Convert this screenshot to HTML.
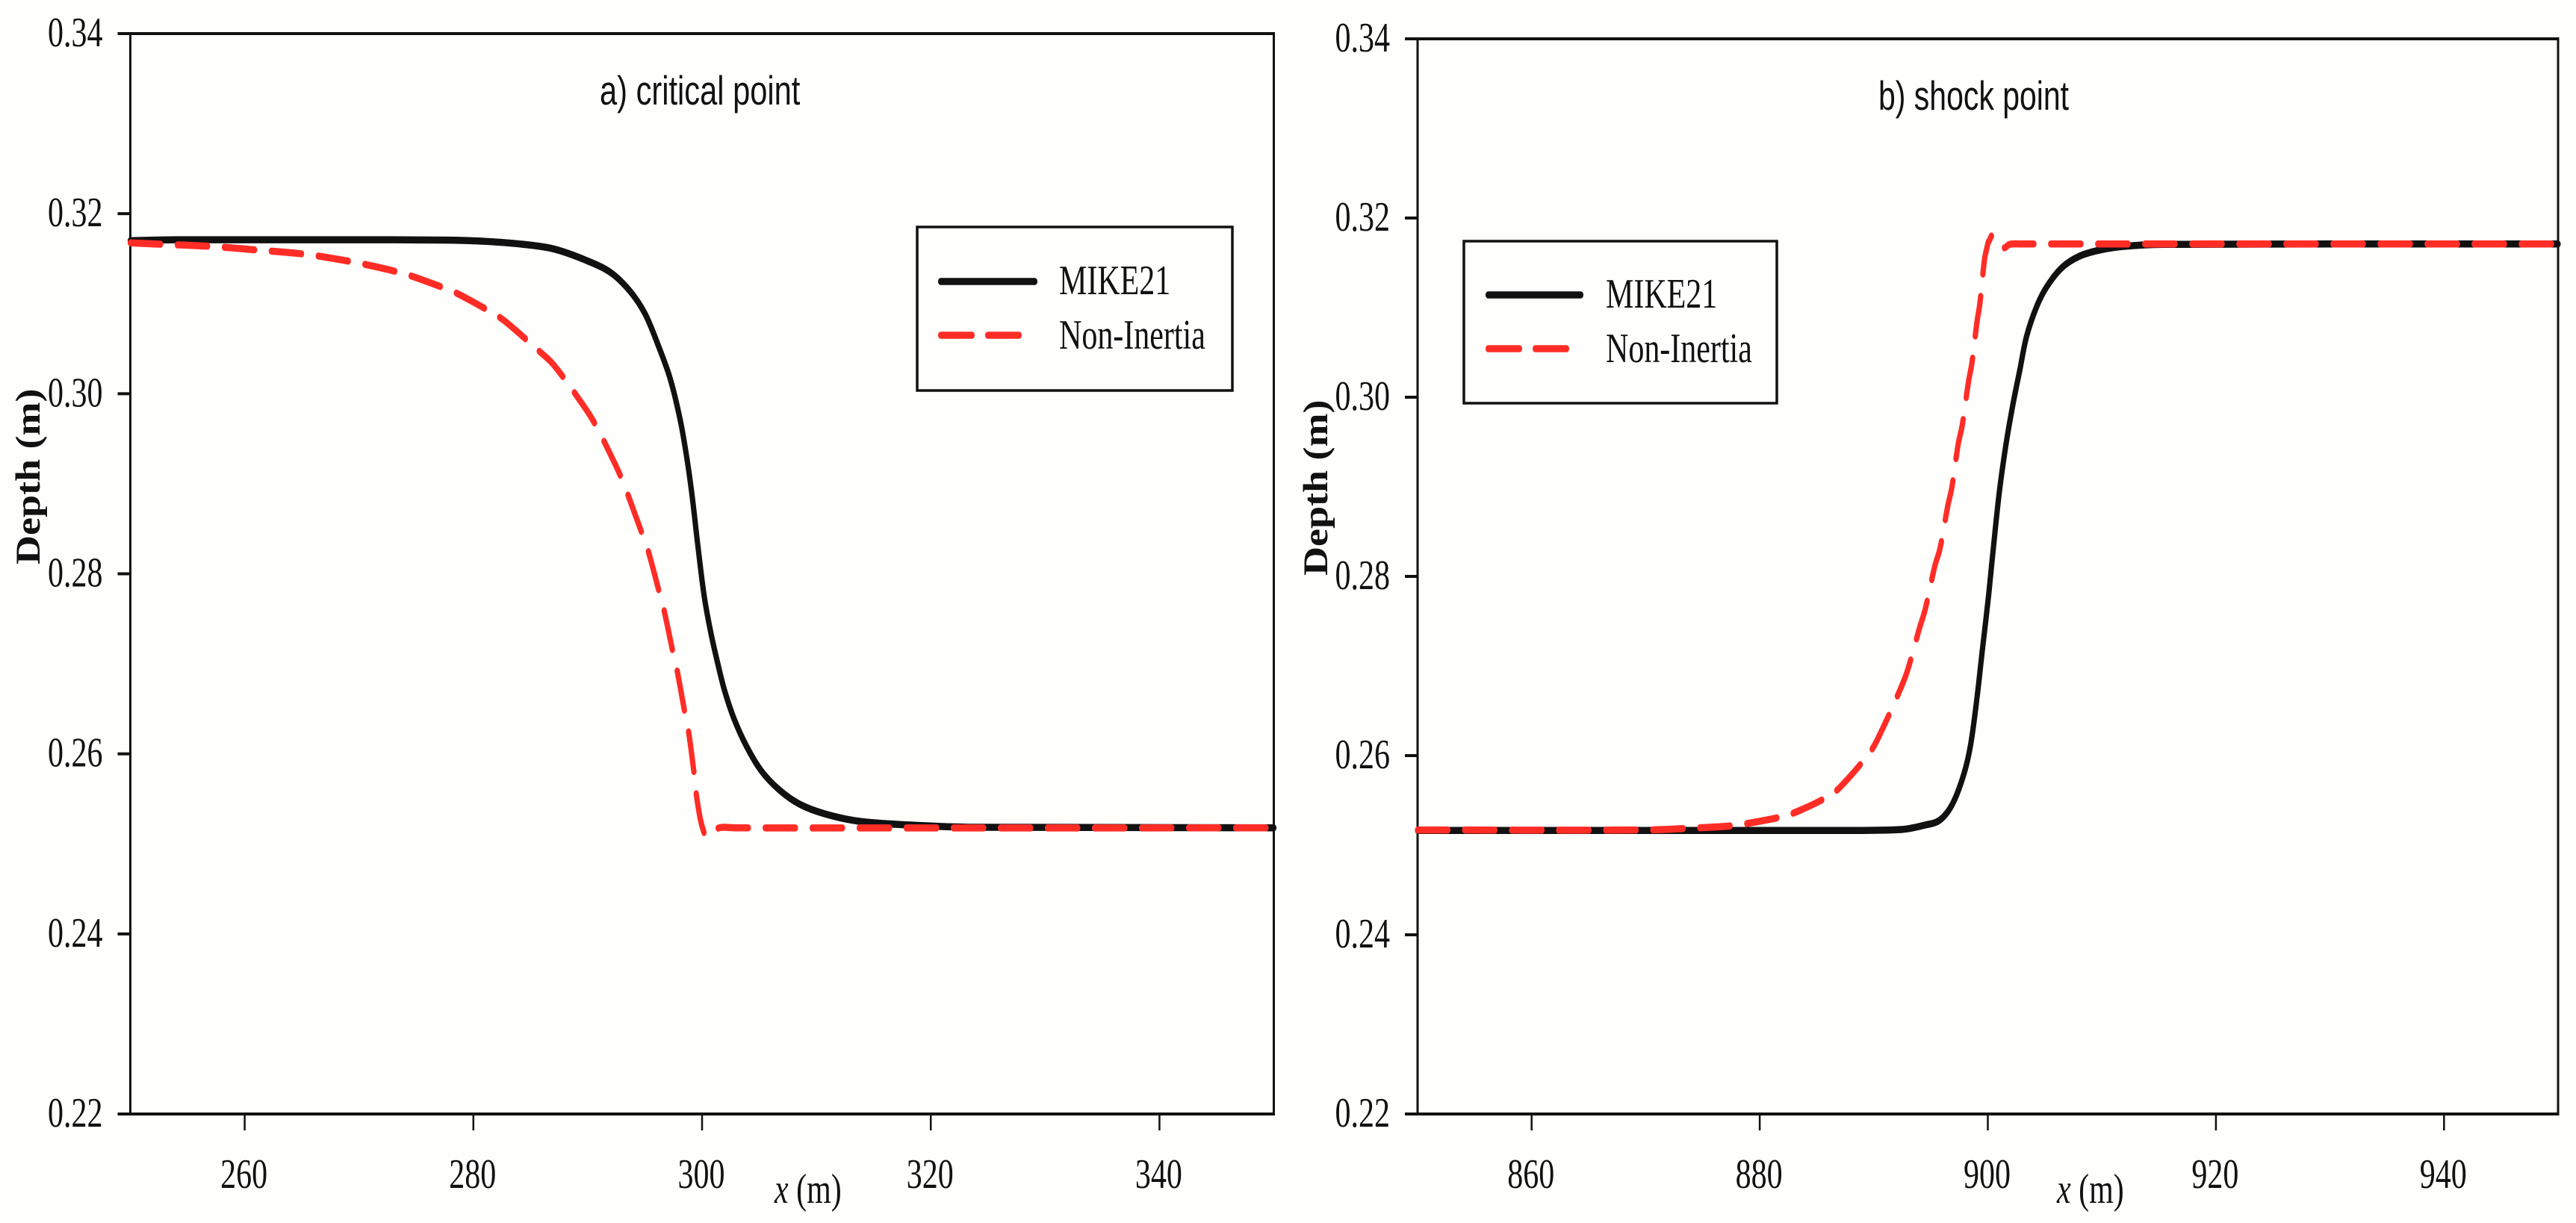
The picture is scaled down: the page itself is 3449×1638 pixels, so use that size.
<!DOCTYPE html>
<html lang="en">
<head>
<meta charset="utf-8">
<title>Depth profiles: critical point and shock point</title>
<style>
  html, body { margin: 0; padding: 0; background: #fefefd; }
  body { width: 3449px; height: 1638px; overflow: hidden; }
  svg { display: block; }
  text { font-family: "Liberation Serif", serif; fill: #111; }
</style>
</head>
<body>
<svg id="chart" xmlns="http://www.w3.org/2000/svg" width="3449" height="1638" viewBox="0 0 3449 1638"></svg>
<script>
const yTickValues = [0.22, 0.24, 0.26, 0.28, 0.30, 0.32, 0.34];
const xTickValuesA = [260, 280, 300, 320, 340];
const xTickValuesB = [860, 880, 900, 920, 940];
const seriesNames = ['MIKE21', 'Non-Inertia'];

const mikeAX = [250,254,258,262,271.3,277.8,281.1,284.3,287,289.8,292,293.7,295,296.1,297.2,298.1,298.7,299.15,299.6,300.2,300.8,301.5,302,302.8,303.9,305.2,306.75,308.5,310.7,313.7,318.1,323.5,350];
const mikeAY = [0.3170,0.3171,0.3171,0.3171,0.3171,0.31706,0.31692,0.3166,0.31609,0.31485,0.31347,0.31139,0.30891,0.30559,0.30172,0.29702,0.2926,0.28845,0.28347,0.2774,0.27325,0.26935,0.26689,0.26388,0.26081,0.25808,0.256,0.25443,0.25335,0.25252,0.2521,0.25185,0.25178];
const nonAX = [250,252.8,256.9,261.1,265.3,269.2,271.3,273.3,274.5,277.5,278.7,281.5,282.8,285.6,287,289.6,290.65,292.5,293.2,294.6,295.2,296.2,296.64,297.45,297.8,298.5,298.82,299.32,299.49,299.84,300.13,300.34,301,301.7,302.9,350];
const nonAY = [0.31676,0.3166,0.31638,0.31596,0.31549,0.3147,0.31415,0.31355,0.31311,0.31172,0.31106,0.3091,0.30802,0.3049,0.30324,0.29873,0.29661,0.29191,0.28983,0.285,0.28293,0.27823,0.27615,0.27131,0.26938,0.26454,0.26247,0.25764,0.25556,0.2528,0.25142,0.25092,0.25154,0.25183,0.25178,0.25178];
const mikeBX = [850,870,885,892.4,894.5,895.8,896.9,897.9,898.5,899.06,899.5,900.05,900.4,901,901.6,902.2,902.8,903.4,904.3,905.2,906.5,908,909.8,911.9,915.4,950];
const mikeBY = [0.25165,0.25165,0.25165,0.25175,0.25225,0.25281,0.2546,0.25794,0.26128,0.26656,0.27156,0.27767,0.28211,0.28933,0.2948,0.2992,0.3030,0.3068,0.31017,0.31239,0.31447,0.31572,0.31642,0.31683,0.31706,0.3171];
const nonBX = [850,870,874,877.45,878.8,881.6,882.8,885.7,887,889.7,890.65,892.3,892.95,894,894.5,895.35,895.8,896.5,896.84,897.4,897.75,898.3,898.6,899.06,899.3,899.7,899.9,900.05,900.15,900.41,900.8,901.4,901.9,903,950];
const nonBY = [0.2517,0.2517,0.2519,0.25215,0.2524,0.25308,0.2535,0.25522,0.25642,0.26044,0.26267,0.26733,0.26947,0.27419,0.27628,0.28114,0.28308,0.28794,0.28989,0.29475,0.29683,0.30169,0.30378,0.3085,0.31044,0.31531,0.31656,0.31733,0.31753,0.31808,0.31767,0.31669,0.31706,0.3171,0.3171];

const NS = 'http://www.w3.org/2000/svg';
const svg = document.getElementById('chart');
const SQUEEZE = 0.75;
const INK = '#111111';
const RED = '#ff2d26';

function make(tag, attrs, parent) {
  const el = document.createElementNS(NS, tag);
  for (const k in attrs) el.setAttribute(k, attrs[k]);
  parent.appendChild(el);
  return el;
}

function addText(parent, str, x, y, anchor, size) {
  const el = make('text', {
    transform: 'translate(' + x + ',' + y + ') scale(' + SQUEEZE + ',1)',
    'text-anchor': anchor,
    'font-size': size
  }, parent);
  el.textContent = str;
  return el;
}

function smoothPath(pts) {
  let d = 'M' + pts[0][0].toFixed(2) + ' ' + pts[0][1].toFixed(2);
  const tangent = i => {
    const a = pts[Math.max(i - 1, 0)];
    const b = pts[Math.min(i + 1, pts.length - 1)];
    const dx = b[0] - a[0];
    const dy = b[1] - a[1];
    const len = Math.hypot(dx, dy) || 1;
    return [dx / len, dy / len];
  };
  for (let i = 0; i < pts.length - 1; i++) {
    const p = pts[i];
    const q = pts[i + 1];
    const seg = Math.hypot(q[0] - p[0], q[1] - p[1]) / 3;
    const t0 = tangent(i);
    const t1 = tangent(i + 1);
    d += ' C' + (p[0] + t0[0] * seg).toFixed(2) + ' ' + (p[1] + t0[1] * seg).toFixed(2) +
         ' ' + (q[0] - t1[0] * seg).toFixed(2) + ' ' + (q[1] - t1[1] * seg).toFixed(2) +
         ' ' + q[0].toFixed(2) + ' ' + q[1].toFixed(2);
  }
  return d;
}

function drawPanel(p) {
  const panel = make('g', {}, svg);
  
  

  const sx = v => p.left + (v - p.xMin) / (p.xMax - p.xMin) * (p.right - p.left);
  const sy = v => p.bottom - (v - 0.22) / (0.34 - 0.22) * (p.bottom - p.top);

  const frame = make('g', {}, panel);
  
  
  make('rect', { x: p.left - 1.5, y: p.top, width: 3, height: p.bottom - p.top, fill: INK }, frame);
  make('rect', { x: p.right - 1.5, y: p.top, width: 3, height: p.bottom - p.top, fill: INK }, frame);
  make('rect', { x: p.left, y: p.top - 2, width: p.right - p.left + 1.5, height: 4, fill: INK }, frame);
  make('rect', { x: p.left, y: p.bottom - 2, width: p.right - p.left + 1.5, height: 4, fill: INK }, frame);

  const yAxis = make('g', {}, panel);
  
  
  yTickValues.forEach(v => {
    const y = sy(v);
    const tick = make('rect', { x: p.left - 17, y: y - 2, width: 17, height: 4, fill: INK }, yAxis);
    
    
    const label = addText(yAxis, v.toFixed(2), p.left - 37, y + 17, 'end', 56);
    
    
  });

  const xAxis = make('g', {}, panel);
  
  
  p.xTicks.forEach(v => {
    const x = sx(v);
    const tick = make('rect', { x: x - 1.25, y: p.bottom, width: 2.5, height: 22, fill: INK }, xAxis);
    
    
    const label = addText(xAxis, String(v), x - 1, 1591, 'middle', 56);
    
    
  });

  const xTitle = addText(panel, '', p.xTitleX, 1611, 'start', 56);
  
  
  const xVar = make('tspan', { 'font-style': 'italic' }, xTitle);
  xVar.textContent = 'x';
  const xUnit = make('tspan', {}, xTitle);
  xUnit.textContent = ' (m)';

  const yTitle = make('text', {
    transform: 'translate(' + p.yTitleX + ',' + p.yTitleY + ') rotate(-90) scale(1,0.86)',
    'font-size': 54,
    'font-weight': 'bold'
  }, panel);
  yTitle.textContent = 'Depth (m)';
  
  

  const title = make('text', {
    transform: 'translate(' + p.titleX + ',' + p.titleY + ') scale(' + p.titleScale + ',1)',
    'font-size': 55,
    style: 'font-family:"Liberation Sans",sans-serif'
  }, panel);
  title.textContent = p.title;
  
  

  const squeezed = make('g', { transform: 'scale(' + SQUEEZE + ',1)' }, panel);
  
  

  const linePath = (xs, ys) => smoothPath(xs.map((v, i) => [sx(v) / SQUEEZE, sy(ys[i])]));

  const mike = make('path', {
    d: linePath(p.mikeX, p.mikeY), fill: 'none', stroke: INK, 'stroke-width': 9.5,
    'stroke-linejoin': 'round', 'stroke-linecap': 'round'
  }, squeezed);
  
  

  const non = make('path', {
    d: linePath(p.nonX, p.nonY), fill: 'none', stroke: RED, 'stroke-width': 9.5,
    'stroke-linejoin': 'round', 'stroke-linecap': 'round', 'stroke-dasharray': '54 30'
  }, squeezed);
  
  

  const L = p.legend;
  const legend = make('g', {}, panel);
  
  
  make('rect', { x: L.x0, y: L.y0, width: L.x1 - L.x0, height: L.y1 - L.y0, fill: 'none', stroke: INK, 'stroke-width': 3.5 }, legend);
  const legendLines = make('g', { transform: 'scale(' + SQUEEZE + ',1)' }, legend);
  const keyA = make('line', {
    x1: (L.keyX0 + 3.5) / SQUEEZE, x2: (L.keyX1 - 3.5) / SQUEEZE, y1: L.row1, y2: L.row1,
    stroke: INK, 'stroke-width': 9.5, 'stroke-linecap': 'round'
  }, legendLines);
  
  
  const keyB = make('line', {
    x1: (L.keyX0 + 3.5) / SQUEEZE, x2: (L.keyX0 + 109) / SQUEEZE, y1: L.row2, y2: L.row2,
    stroke: RED, 'stroke-width': 9.5, 'stroke-linecap': 'round', 'stroke-dasharray': '56 28'
  }, legendLines);
  
  
  const labelA = addText(legend, seriesNames[0], L.textX, L.row1 + 17, 'start', 56);
  
  
  const labelB = addText(legend, seriesNames[1], L.textX, L.row2 + 18, 'start', 56);
  
  
}

drawPanel({
  name: 'panel-a-critical-point', title: 'a) critical point',
  left: 174.5, right: 1705.5, top: 45, bottom: 1492, xMin: 250, xMax: 350,
  xTicks: xTickValuesA, mikeX: mikeAX, mikeY: mikeAY, nonX: nonAX, nonY: nonAY,
  titleX: 803, titleY: 140, titleScale: 0.757, xTitleX: 1037, yTitleX: 53, yTitleY: 756,
  legend: { x0: 1228, x1: 1650, y0: 304, y1: 523, keyX0: 1256, keyX1: 1389, row1: 377, row2: 449, textX: 1418 }
});
drawPanel({
  name: 'panel-b-shock-point', title: 'b) shock point',
  left: 1898, right: 3425, top: 52, bottom: 1492, xMin: 850, xMax: 950,
  xTicks: xTickValuesB, mikeX: mikeBX, mikeY: mikeBY, nonX: nonBX, nonY: nonBY,
  titleX: 2515, titleY: 147, titleScale: 0.745, xTitleX: 2754, yTitleX: 1777, yTitleY: 771,
  legend: { x0: 1960, x1: 2379, y0: 323, y1: 540, keyX0: 1989, keyX1: 2120, row1: 395, row2: 467, textX: 2150 }
});
</script>
</body>
</html>
